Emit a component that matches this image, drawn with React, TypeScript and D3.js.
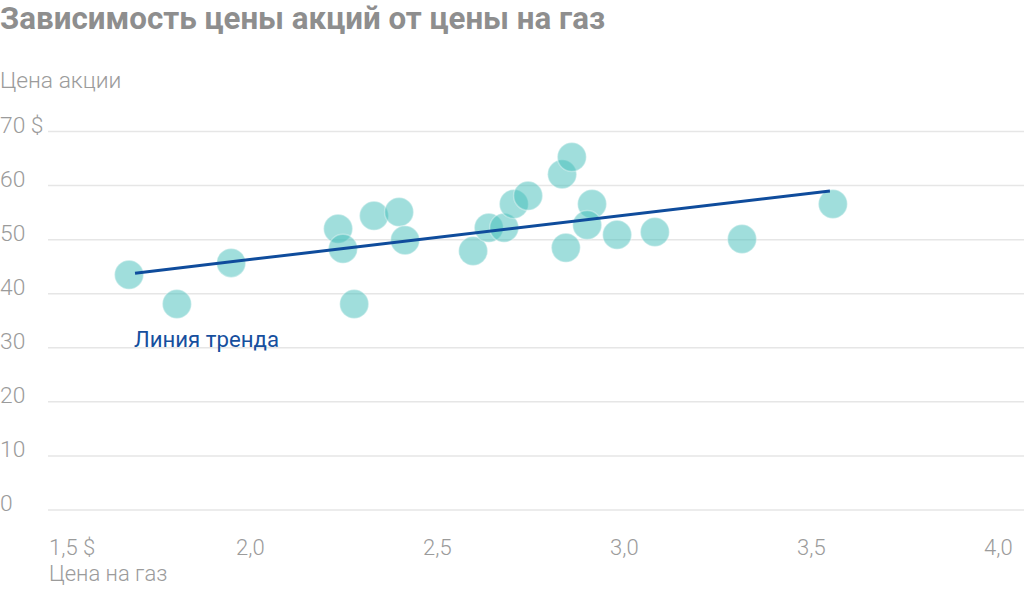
import React, { useRef, useEffect } from "react";
import * as d3 from "d3";

// gas price ($) vs share price ($)
const gasPrice = [
  1.714, 1.842, 1.987, 2.273, 2.286, 2.369, 2.436, 2.452, 2.316, 2.634, 2.676, 2.717,
  2.743, 2.781, 2.872, 2.898, 2.882, 2.952, 2.939, 3.019, 3.12, 3.353, 3.596,
];
const sharePrice = [
  43.5, 38.1, 45.7, 52.0, 48.3, 54.4, 55.1, 49.9, 38.1, 47.9, 52.2, 52.2,
  56.6, 58.1, 62.1, 65.3, 48.5, 56.6, 52.7, 50.9, 51.4, 50.1, 56.6,
];
const trendX = [1.73, 3.588];
const trendY = [43.8, 59.0];
const xTicks = [1.5, 2.0, 2.5, 3.0, 3.5, 4.0];
const yTicks = [0, 10, 20, 30, 40, 50, 60, 70];

const W = 1024;
const H = 591;
const GRAY = "#9b9b9b";
const FONT = "Roboto, 'Noto Sans', sans-serif";
const FS = 22.8;

const fmt = (v: number) => v.toFixed(1).replace(".", ",");

const App: React.FC = () => {
  const svgRef = useRef<SVGSVGElement>(null);

  useEffect(() => {
    if (!svgRef.current) return;
    const svg = d3.select(svgRef.current);
    svg.selectAll("*").remove();

    const x = d3.scaleLinear().domain([1.5, 4.0]).range([49, 984]);
    const y = d3.scaleLinear().domain([0, 70]).range([510, 131.5]);

    svg
      .append("text")
      .attr("x", 0)
      .attr("y", 29)
      .attr("font-family", FONT)
      .attr("font-weight", 700)
      .attr("font-size", 31.3)
      .attr("fill", "#8e8e8e")
      .text("Зависимость цены акций от цены на газ");

    svg
      .append("text")
      .attr("x", 0)
      .attr("y", 88)
      .attr("font-family", FONT)
      .attr("font-weight", 300)
      .attr("font-size", FS)
      .attr("fill", GRAY)
      .text("Цена акции");

    // gridlines + y labels
    const yg = svg.append("g");
    yg.selectAll("line")
      .data(yTicks)
      .join("line")
      .attr("x1", 48)
      .attr("x2", W)
      .attr("y1", (d) => y(d))
      .attr("y2", (d) => y(d))
      .attr("stroke", "#e6e6e6")
      .attr("stroke-width", 1.5);
    yg.selectAll("text")
      .data(yTicks)
      .join("text")
      .attr("x", 0)
      .attr("y", (d) => y(d) + 1)
      .attr("font-family", FONT)
      .attr("font-weight", 300)
      .attr("font-size", FS)
      .attr("fill", GRAY)
      .text((d) => (d === 70 ? `${d} $` : `${d}`));

    // x labels
    svg
      .append("g")
      .selectAll("text")
      .data(xTicks)
      .join("text")
      .attr("x", (d) => x(d))
      .attr("y", 555)
      .attr("font-family", FONT)
      .attr("font-weight", 300)
      .attr("font-size", 22)
      .attr("fill", GRAY)
      .text((d, i) => (i === 0 ? `${fmt(d)} $` : fmt(d)));

    svg
      .append("text")
      .attr("x", 49)
      .attr("y", 581)
      .attr("font-family", FONT)
      .attr("font-weight", 300)
      .attr("font-size", 22)
      .attr("fill", GRAY)
      .text("Цена на газ");

    // points
    svg
      .append("g")
      .selectAll("circle")
      .data(gasPrice.map((g, i) => [g, sharePrice[i]]))
      .join("circle")
      .attr("cx", (d) => x(d[0]))
      .attr("cy", (d) => y(d[1]))
      .attr("r", 14.5)
      .attr("fill", "rgb(65,189,185)")
      .attr("fill-opacity", 0.5)
      .attr("stroke", "#ffffff")
      .attr("stroke-opacity", 0.35)
      .attr("stroke-width", 1.5);

    // trend line
    const line = d3
      .line<number>()
      .x((d) => x(d))
      .y((_, i) => y(trendY[i]));
    svg
      .append("path")
      .attr("d", line(trendX) as string)
      .attr("fill", "none")
      .attr("stroke", "#0f4c9c")
      .attr("stroke-width", 3);

    svg
      .append("text")
      .attr("x", 134)
      .attr("y", 347)
      .attr("font-family", FONT)
      .attr("font-weight", 400)
      .attr("font-size", 22.2)
      .attr("fill", "#164f9e")
      .text("Линия тренда");
  }, []);

  return (
    <div style={{ position: "absolute", left: 0, top: 0, width: W, height: H, background: "#fff" }}>
      <svg ref={svgRef} width={W} height={H} />
    </div>
  );
};

export default App;
